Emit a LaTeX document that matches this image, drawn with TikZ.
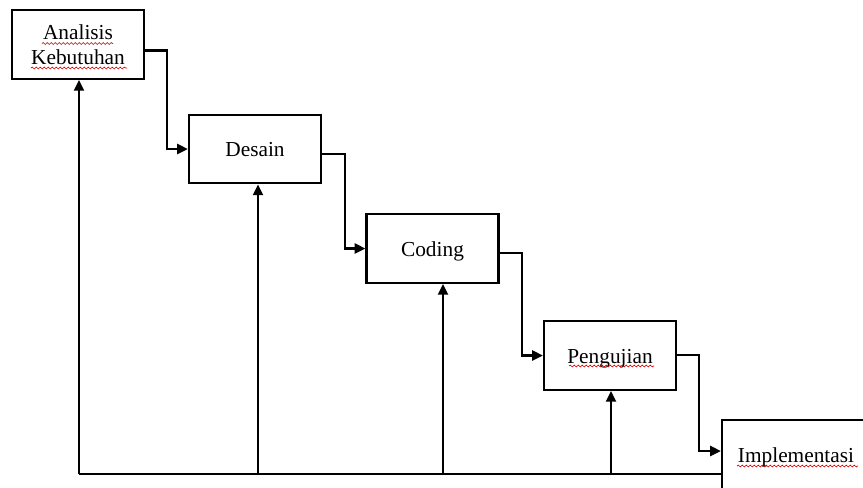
\documentclass[tikz,border=0pt]{standalone}
\usepackage{fontspec}
\setmainfont{Liberation Serif}
\usetikzlibrary{arrows.meta,decorations.pathmorphing}
\begin{document}
\begin{tikzpicture}[x=0.75pt,y=-0.75pt,
  stagebox/.style={draw=black,line width=1.7pt,fill=white,minimum width=99pt,minimum height=51.5pt,inner sep=0pt,align=center,font=\fontsize{16}{19}\selectfont},
  oneline/.style={text height=11.8pt,text depth=0pt},
  flow/.style={line width=1.6pt,-{Triangle[length=8pt,width=7.5pt]}},
  wavy/.style={draw=red!85!black,line width=0.5pt,decorate,decoration={snake,amplitude=0.7pt,segment length=3pt}}]
\useasboundingbox (0,0) rectangle (863,487);
\clip (0,0) rectangle (863,487);
\node[stagebox] (b1) at (78,44.5) {Analisis\\Kebutuhan};
\node[stagebox,oneline] (b2) at (255,149) {Desain};
\node[stagebox,oneline] (b3) at (432.5,248.5) {Coding};
\node[stagebox,oneline] (b4) at (610,355.5) {Pengujian};
\node[stagebox,oneline,minimum width=111pt,minimum height=52.5pt] (b5) at (796,455) {Implementasi};
% forward flow
\draw[flow] ([yshift=-4.5pt]b1.east) -- ++(22,0) |- (b2.west);
\draw[flow] ([yshift=-4pt]b2.east) -- ++(23,0) |- (b3.west);
\draw[flow] ([yshift=-3.5pt]b3.east) -- ++(22,0) |- (b4.west);
\draw[flow] ([yshift=0.5pt]b4.east) -- ++(22,0) |- ([yshift=3pt]b5.west);
% feedback
\coordinate (f1) at (79,474);
\coordinate (f2) at (258,474);
\coordinate (f3) at (443,474);
\coordinate (f4) at (611,474);
\draw[line width=1.6pt] (f1) -- (f1 -| b5.west);
\draw[flow] (f1) -- (f1 |- b1.south);
\draw[flow] (f2) -- (f2 |- b2.south);
\draw[flow] (f3) -- (f3 |- b3.south);
\draw[flow] (f4) -- (f4 |- b4.south);
% spell-check underlines
\draw[wavy] (42,43.5) -- (113,43.5);
\draw[wavy] (31,68) -- (127,68);
\draw[wavy] (569,366) -- (654,366);
\draw[wavy] (737,466) -- (858,466);
\end{tikzpicture}
\end{document}
